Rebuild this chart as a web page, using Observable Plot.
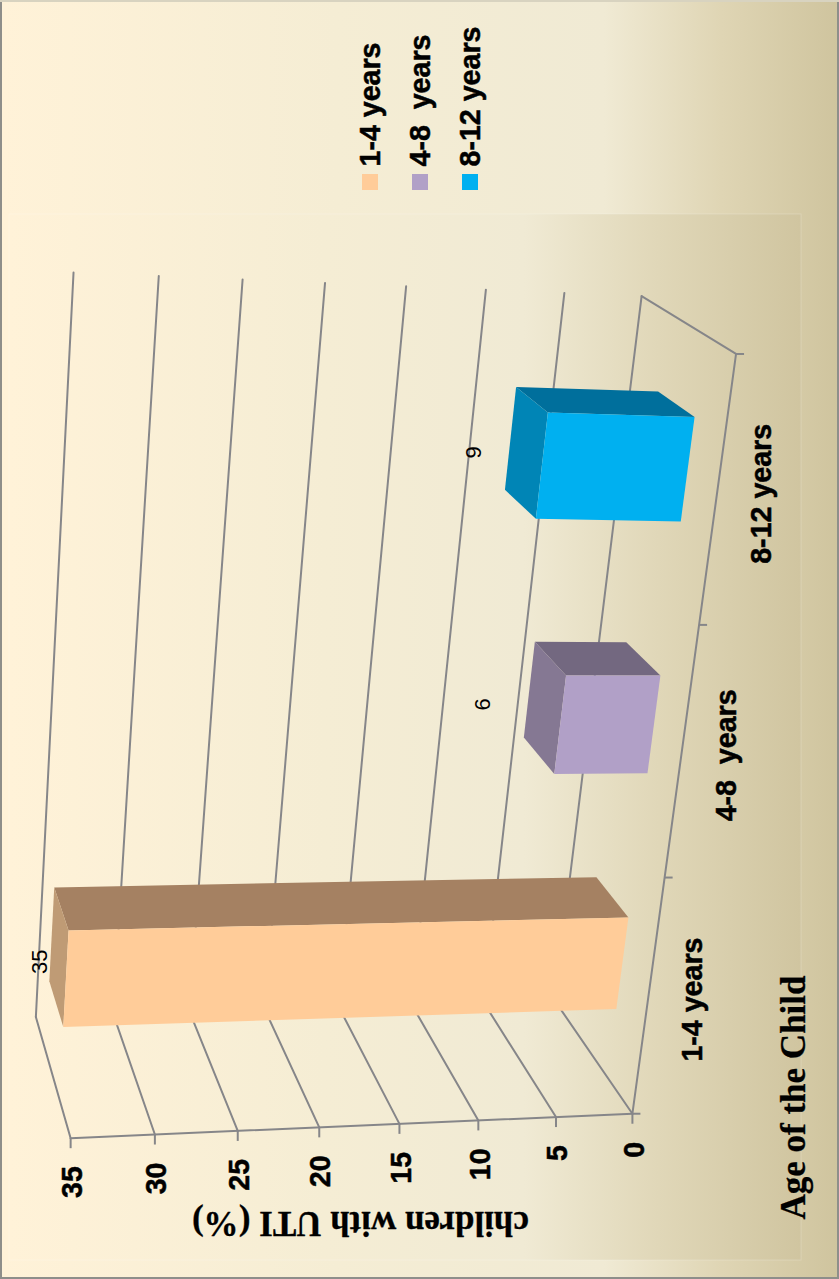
<!DOCTYPE html>
<html>
<head>
<meta charset="utf-8">
<script src="https://cdn.jsdelivr.net/npm/d3@7"></script>
<script src="https://cdn.jsdelivr.net/npm/@observablehq/plot@0.6"></script>
<style>
  html, body { margin: 0; padding: 0; background: #fff; }
  svg { display: block; }
</style>
</head>
<body>
<div id="chart"></div>
<script>
// Chart data
const categories = ["1-4 years", "4-8\u00a0\u00a0years", "8-12 years"];
const uti = [35, 6, 9];
const valueTicks = [0, 5, 10, 15, 20, 25, 30, 35];

// Bar colours: front, end cap, long side
const frontFill = ["#FFCC99", "#B1A0C7", "#00B0F0"];
const capFill = ["#BF9B75", "#857893", "#0085B6"];
const sideFill = ["#A58162", "#736880", "#006F9C"];

const W = 839, H = 1279;
const vMax = 35;

// Camera anchors for the oblique box: [value, category 0..1, depth 0..1] -> page position
const anchors = [
  [0, 0, 0, 632, 1113], [5, 0, 0, 555, 1117], [10, 0, 0, 478, 1120], [15, 0, 0, 399, 1123],
  [20, 0, 0, 318, 1127], [25, 0, 0, 237, 1130], [30, 0, 0, 154, 1134], [35, 0, 0, 70, 1137],
  [0, 1, 1, 641, 296], [5, 1, 1, 563, 292], [10, 1, 1, 485, 289], [15, 1, 1, 405, 286],
  [20, 1, 1, 325, 282], [25, 1, 1, 242, 279], [30, 1, 1, 158, 275], [35, 1, 1, 74, 272],
  [35, 0, 1, 36, 1018], [0, 0, 1, 554.5, 999.5],
  [0, 1 / 3, 0, 665, 877], [0, 2 / 3, 0, 699, 625], [0, 1, 0, 736, 354]
];

// Least-squares fit of a 3x4 projective camera to the anchors
function fitCamera(points) {
  const n = 11;
  const A = Array.from({length: n}, () => new Array(n + 1).fill(0));
  const add = (row, rhs) => {
    for (let i = 0; i < n; i++) {
      for (let j = 0; j < n; j++) A[i][j] += row[i] * row[j];
      A[i][n] += row[i] * rhs;
    }
  };
  for (const [v, c, d, px, py] of points) {
    const a = v / vMax, u = px / 1000, w = py / 1000;
    add([a, c, d, 1, 0, 0, 0, 0, -u * a, -u * c, -u * d], u);
    add([0, 0, 0, 0, a, c, d, 1, -w * a, -w * c, -w * d], w);
  }
  for (let i = 0; i < n; i++) {
    let p = i;
    for (let r = i + 1; r < n; r++) if (Math.abs(A[r][i]) > Math.abs(A[p][i])) p = r;
    [A[i], A[p]] = [A[p], A[i]];
    for (let r = 0; r < n; r++) {
      if (r === i) continue;
      const f = A[r][i] / A[i][i];
      for (let k = i; k <= n; k++) A[r][k] -= f * A[i][k];
    }
  }
  return A.map((row, i) => row[n] / row[i]);
}
const cam = fitCamera(anchors);

// Project a point of the 3D box onto the page
function project(v, c, d) {
  const a = v / vMax;
  const q = cam[8] * a + cam[9] * c + cam[10] * d + 1;
  return {
    x: 1000 * (cam[0] * a + cam[1] * c + cam[2] * d + cam[3]) / q,
    y: 1000 * (cam[4] * a + cam[5] * c + cam[6] * d + cam[7]) / q
  };
}

// Straight edges of the box
const segment = (key, a, b) => [{key, ...project(...a)}, {key, ...project(...b)}];
const gridEdges = [
  ...valueTicks.flatMap(v => [
    ...segment(`floor${v}`, [v, 0, 0], [v, 0, 1]),
    ...segment(`wall${v}`, [v, 0, 1], [v, 1, 1])
  ]),
  ...segment("valueAxis", [0, 0, 0], [vMax, 0, 0]),
  ...segment("categoryAxis", [0, 0, 0], [0, 1, 0]),
  ...segment("endEdge", [0, 1, 0], [0, 1, 1])
];

// Bars as three visible faces of each box
const halfBar = 0.066, depth0 = 0.305, depth1 = 0.7;
const faces = categories.flatMap((name, i) => {
  const c0 = (i + 0.5) / 3 - halfBar, c1 = (i + 0.5) / 3 + halfBar, v = uti[i];
  const quad = (face, fill, pts) => pts.map(p => ({key: `${name}-${face}`, fill, ...project(...p)}));
  return [
    ...quad("side", sideFill[i], [[0, c1, depth0], [v, c1, depth0], [v, c1, depth1], [0, c1, depth1]]),
    ...quad("cap", capFill[i], [[v, c0, depth0], [v, c1, depth0], [v, c1, depth1], [v, c0, depth1]]),
    ...quad("front", frontFill[i], [[0, c0, depth0], [v, c0, depth0], [v, c1, depth0], [0, c1, depth0]])
  ];
});

// Value labels sit beside each bar's end cap
const labelNudge = [[-19, 5], [-62, -3], [-52, 0]];
const valueLabels = categories.map((name, i) => {
  const p = project(uti[i], (i + 0.5) / 3, 0.5);
  return {label: String(uti[i]), x: p.x + labelNudge[i][0], y: p.y + labelNudge[i][1]};
});

const valueTickRows = valueTicks.map(v => ({v, ...project(v, 0, 0)}));
const categoryTickRows = [1 / 3, 2 / 3, 1].concat(0).map(c => project(0, c, 0));
const categoryLabelRows = categories.map((name, i) => ({name, ...project(0, (i + 0.5) / 3, 0)}));
const legendRows = categories.map((name, i) => ({name, i, x: 370 + 50 * i}));

const sans = "'Liberation Sans', Arial, sans-serif";
const serif = "'Liberation Serif', 'Times New Roman', serif";
const heavySans = {fontSize: 28.6, fontWeight: 700, fontFamily: sans, fill: "#000", stroke: "#000", strokeWidth: 0.5};
const heavySerif = {fontSize: 35, fontWeight: 700, fontFamily: serif, fill: "#000", stroke: "#000", strokeWidth: 0.3};

const gradient = (id, stops) =>
  `<linearGradient id="${id}" x1="0" x2="1" y1="0" y2="0">` +
  stops.map(([o, c]) => `<stop offset="${o}" stop-color="${c}"/>`).join("") +
  `</linearGradient>`;

const defs = () => {
  const g = document.createElementNS("http://www.w3.org/2000/svg", "defs");
  g.innerHTML =
    gradient("pagePanel", [[0, "#FFF2D8"], [0.4, "#F5EDD4"], [0.72, "#F0EAD4"], [0.86, "#DFD5B4"], [1, "#CFC49E"]]) +
    gradient("plotPanel", [[0, "#FFF2D8"], [0.4, "#F5EDD4"], [0.65, "#F0EAD4"], [0.82, "#E0D7B8"], [1, "#D0C5A0"]]);
  return g;
};

const chart = Plot.plot({
  width: W,
  height: H,
  margin: 0,
  x: {domain: [0, W], range: [0, W], axis: null},
  y: {domain: [0, H], range: [0, H], axis: null},
  marks: [
    defs,
    // Panels and border
    Plot.rect([0], {x1: 0, x2: W, y1: 0, y2: H, fill: "url(#pagePanel)"}),
    Plot.rect([0], {x1: 9, x2: 801, y1: 214, y2: 1260, fill: "url(#plotPanel)", stroke: "#FFFFFF", strokeOpacity: 0.2}),
    Plot.rect([0], {x1: 1, x2: W - 1, y1: 0.5, y2: H - 1, fill: "none", stroke: "#8E8E8A", strokeWidth: 2}),
    Plot.ruleY([0.5], {stroke: "#D8D3C0", strokeWidth: 2}),

    // Box edges and ticks
    Plot.line(gridEdges, {x: "x", y: "y", z: "key", stroke: "#868689", strokeWidth: 2, curve: "linear"}),
    Plot.link(valueTickRows, {x1: "x", y1: "y", x2: "x", y2: d => d.y + 10, stroke: "#868689", strokeWidth: 2}),
    Plot.link(categoryTickRows, {x1: "x", y1: "y", x2: d => d.x + 8, y2: "y", stroke: "#868689", strokeWidth: 2}),

    // Bars
    Plot.line(faces, {x: "x", y: "y", z: "key", fill: "fill", stroke: "none", curve: "linear-closed"}),

    // Value labels
    Plot.text(valueLabels, {x: "x", y: "y", text: "label", rotate: -90, fontSize: 22, fontFamily: sans, fill: "#000"}),

    // Axis tick labels
    Plot.text(valueTickRows, {x: d => d.x + 2, y: d => d.y + 28, text: d => String(d.v), rotate: -90, textAnchor: "end", ...heavySans}),
    Plot.text(categoryLabelRows, {x: d => d.x + 45, y: d => d.y + 2, text: "name", rotate: -90, ...heavySans}),

    // Axis titles
    Plot.text(["children with UTI (%)"], {x: 360, y: 1223, text: d => d, rotate: 180, ...heavySerif}),
    Plot.text(["Age of the Child"], {x: 793, y: 1097, text: d => d, rotate: -90, ...heavySerif}),

    // Legend
    Plot.rect(legendRows, {x1: d => d.x - 8, x2: d => d.x + 8, y1: 174, y2: 190, fill: d => frontFill[d.i]}),
    Plot.text(legendRows, {x: "x", y: 166, text: "name", rotate: -90, textAnchor: "start", ...heavySans})
  ]
});
document.getElementById("chart").append(chart);
</script>
</body>
</html>
